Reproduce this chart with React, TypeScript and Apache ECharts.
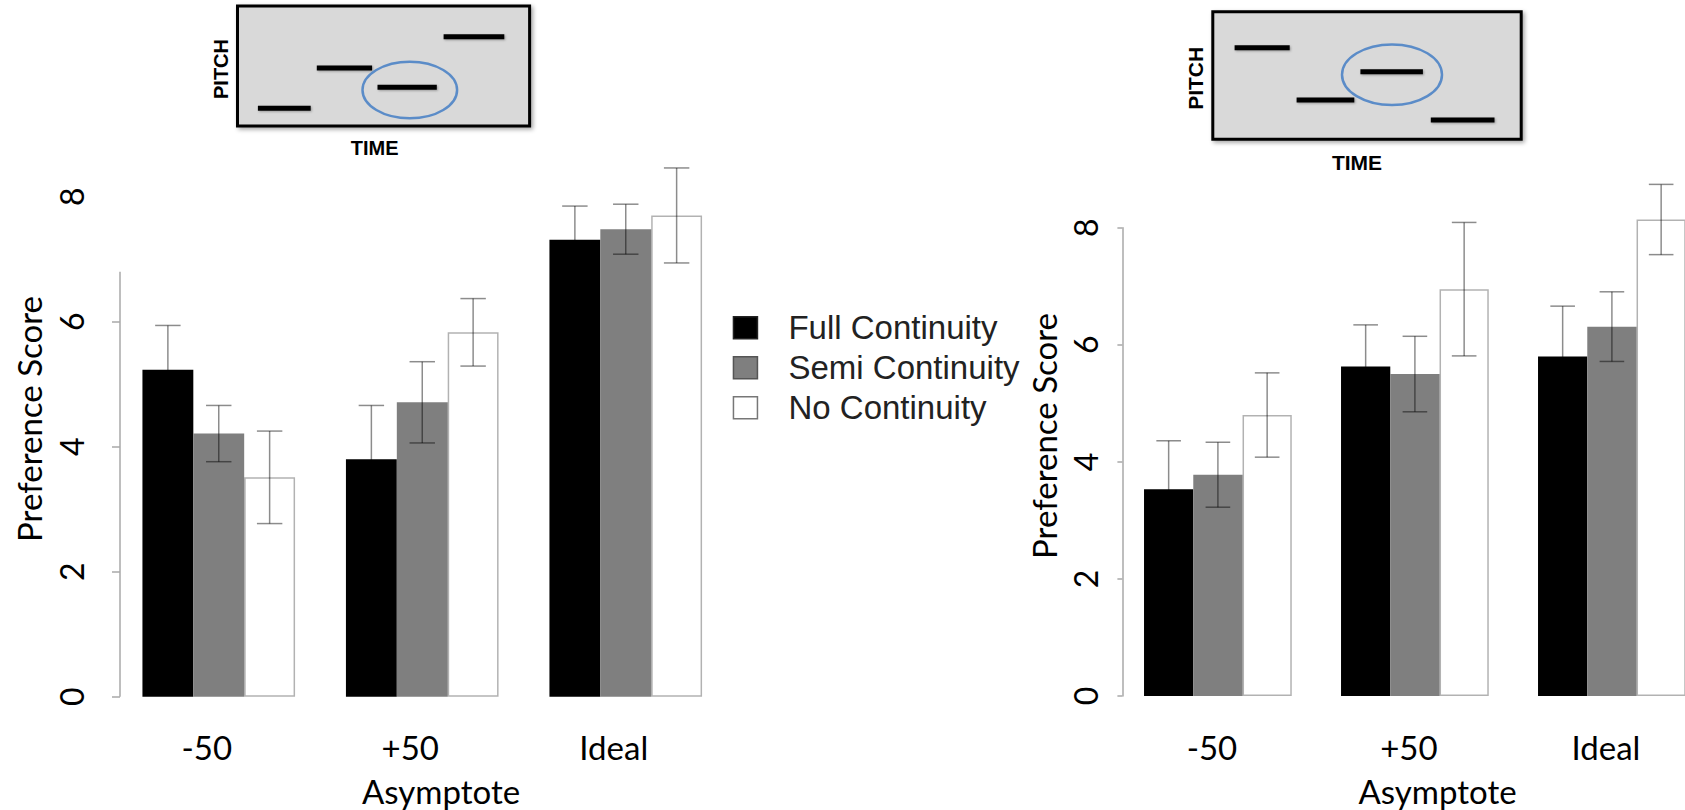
import React, { useEffect, useRef } from 'react';
import * as echarts from 'echarts';

// ---------- data ----------
const categories = ['-50', '+50', 'Ideal'];
const seriesNames = ['Full Continuity', 'Semi Continuity', 'No Continuity'];
const yTicks = [0, 2, 4, 6, 8];
const leftTickValues = [0, 2, 4, 6];
const leftAxisTop = 6.8;

const leftFull = [5.23, 3.8, 7.31];
const leftSemi = [4.21, 4.71, 7.48];
const leftNo = [3.51, 5.83, 7.7];
const leftFullErr = [0.71, 0.86, 0.54];
const leftSemiErr = [0.45, 0.65, 0.4];
const leftNoErr = [0.74, 0.54, 0.76];

const rightFull = [3.53, 5.63, 5.8];
const rightSemi = [3.78, 5.5, 6.31];
const rightNo = [4.8, 6.95, 8.14];
const rightFullErr = [0.83, 0.71, 0.86];
const rightSemiErr = [0.555, 0.645, 0.595];
const rightNoErr = [0.72, 1.14, 0.6];

// ---------- styles ----------
const seriesColors = ['#000000', '#7f7f7f', '#ffffff'];
const legendBorders = ['#222222', '#555555', '#777777'];
const FONT = 'Lato, "Open Sans", sans-serif';
const SANS = '"Liberation Sans", Arial, sans-serif';

const charts = [
  {
    values: [leftFull, leftSemi, leftNo],
    errs: [leftFullErr, leftSemiErr, leftNoErr],
    grid: { left: 117, top: 196.7, width: 610.5, height: 500 },
    labelMargin: 33,
    tickLen: 8,
    xPad: [0, 24, 0, 0],
  },
  {
    values: [rightFull, rightSemi, rightNo],
    errs: [rightFullErr, rightSemiErr, rightNoErr],
    grid: { left: 1119.4, top: 227.7, width: 591, height: 468.3 },
    labelMargin: 21,
    tickLen: 5,
    xPad: [0, 12, 0, 0],
  },
];

const insets = [
  {
    box: { x: 237.5, y: 6, width: 292.1, height: 120 },
    notes: [
      [257.9, 310.7, 108.3],
      [316.8, 372.1, 68],
      [377.5, 436.8, 87.3],
      [443.6, 504.3, 36.7],
    ],
    ellipse: { cx: 409.8, cy: 90, rx: 47.3, ry: 28.3 },
    pitch: [221, 69],
    time: [374.6, 148],
    font: 20,
  },
  {
    box: { x: 1212.8, y: 11.7, width: 308.4, height: 127.6 },
    notes: [
      [1234.6, 1289.7, 47.7],
      [1296.6, 1354.3, 100],
      [1360.4, 1422.9, 71.7],
      [1430.8, 1494.5, 120],
    ],
    ellipse: { cx: 1392, cy: 74.7, rx: 50, ry: 30.3 },
    pitch: [1195.8, 78.3],
    time: [1357, 162],
    font: 21,
  },
];

function textEl(text: string, x: number, y: number, font: string, rotation = 0, fill = '#000') {
  return {
    type: 'text',
    x,
    y,
    rotation,
    silent: true,
    style: {
      text,
      font,
      fill,
      align: 'center',
      verticalAlign: 'middle',
      textAlign: 'center',
      textVerticalAlign: 'middle',
    },
  };
}

function buildOption() {
  const grids: any[] = [];
  const xAxes: any[] = [];
  const yAxes: any[] = [];
  const series: any[] = [];

  charts.forEach((c, ci) => {
    grids.push({ ...c.grid, containLabel: false, outerBoundsMode: 'none' });
    xAxes.push({
      type: 'category',
      gridIndex: ci,
      data: categories,
      boundaryGap: true,
      axisLine: { show: false },
      axisTick: { show: false },
      splitLine: { show: false },
      axisLabel: {
        fontFamily: FONT,
        fontSize: 33,
        color: '#000',
        margin: 34,
        padding: c.xPad,
      },
    });
    yAxes.push({
      type: 'value',
      gridIndex: ci,
      min: yTicks[0],
      max: yTicks[yTicks.length - 1],
      interval: 2,
      offset: -3,
      splitLine: { show: false },
      axisLine: { show: ci === 1, lineStyle: { color: '#a8a8a8', width: 1.5 } },
      axisTick: {
        show: true,
        length: c.tickLen,
        lineStyle: { color: '#a8a8a8', width: 1.5 },
        ...(ci === 0 ? { customValues: leftTickValues } : {}),
      },
      axisLabel: {
        rotate: 90,
        fontFamily: FONT,
        fontSize: 32,
        color: '#000',
        margin: c.labelMargin,
      },
    });

    c.values.forEach((vals, k) => {
      series.push({
        type: 'bar',
        name: seriesNames[k],
        xAxisIndex: ci,
        yAxisIndex: ci,
        data: vals,
        barWidth: '25%',
        barGap: '0%',
        clip: false,
        silent: true,
        itemStyle: {
          color: seriesColors[k],
          borderColor: k === 2 ? 'rgba(0,0,0,0.3)' : seriesColors[k],
          borderWidth: k === 2 ? 1.5 : 0,
        },
      });
    });

    const errData: number[][] = [];
    c.values.forEach((vals, k) => {
      vals.forEach((v, cat) => errData.push([cat, k, v, c.errs[k][cat]]));
    });
    series.push({
      type: 'custom',
      name: 'err' + ci,
      xAxisIndex: ci,
      yAxisIndex: ci,
      clip: false,
      silent: true,
      z: 5,
      encode: { x: 0, y: 2 },
      data: errData,
      renderItem: (params: any, api: any) => {
        const cat = api.value(0);
        const k = api.value(1);
        const v = api.value(2);
        const e = api.value(3);
        const band = api.size([1, 0])[0];
        const cx = api.coord([cat, v])[0] + (k - 1) * band / 4;
        const yTop = api.coord([cat, v + e])[1];
        const yBot = api.coord([cat, v - e])[1];
        const hw = band / 16;
        const style = { stroke: 'rgba(0,0,0,0.45)', lineWidth: 1.5 };
        return {
          type: 'group',
          children: [
            { type: 'line', shape: { x1: cx, y1: yTop, x2: cx, y2: yBot }, style },
            { type: 'line', shape: { x1: cx - hw, y1: yTop, x2: cx + hw, y2: yTop }, style },
            { type: 'line', shape: { x1: cx - hw, y1: yBot, x2: cx + hw, y2: yBot }, style },
          ],
        };
      },
    });
  });

  // partial y axis line of the left panel
  series.push({
    type: 'custom',
    name: 'leftAxisLine',
    xAxisIndex: 0,
    yAxisIndex: 0,
    clip: false,
    silent: true,
    encode: { x: 0, y: 1 },
    data: [[0, leftAxisTop]],
    renderItem: (params: any, api: any) => {
      const x = params.coordSys.x + 3;
      const y0 = api.coord([0, 0])[1];
      const y1 = api.coord([0, api.value(1)])[1];
      return {
        type: 'line',
        shape: { x1: x, y1: y0, x2: x, y2: y1 },
        style: { stroke: '#a8a8a8', lineWidth: 1.5 },
      };
    },
  });

  const graphics: any[] = [];
  insets.forEach((ins) => {
    graphics.push({
      type: 'rect',
      silent: true,
      shape: ins.box,
      style: {
        fill: '#d9d9d9',
        stroke: '#000',
        lineWidth: 3,
        shadowBlur: 4,
        shadowOffsetX: 2,
        shadowOffsetY: 2,
        shadowColor: 'rgba(0,0,0,0.35)',
      },
    });
    ins.notes.forEach(([x1, x2, y]) => {
      graphics.push({
        type: 'rect',
        silent: true,
        shape: { x: x1, y: y - 2.5, width: x2 - x1, height: 5 },
        style: { fill: '#000', shadowBlur: 2, shadowOffsetX: 1, shadowOffsetY: 1, shadowColor: 'rgba(0,0,0,0.3)' },
      });
    });
    graphics.push({
      type: 'ellipse',
      silent: true,
      shape: ins.ellipse,
      style: { fill: 'none', stroke: '#5b8cc8', lineWidth: 2.5 },
    });
    graphics.push(textEl('PITCH', ins.pitch[0], ins.pitch[1], `bold ${ins.font}px ${SANS}`, Math.PI / 2));
    graphics.push(textEl('TIME', ins.time[0], ins.time[1], `bold ${ins.font}px ${SANS}`));
  });
  graphics.push(textEl('Preference Score', 29, 419, `33px ${FONT}`, Math.PI / 2));
  graphics.push(textEl('Preference Score', 1044, 436, `33px ${FONT}`, Math.PI / 2));
  graphics.push(textEl('Asymptote', 441, 791, `33px ${FONT}`));
  graphics.push(textEl('Asymptote', 1437.5, 791, `33px ${FONT}`));

  return {
    animation: false,
    backgroundColor: '#ffffff',
    textStyle: { fontFamily: FONT },
    grid: grids,
    xAxis: xAxes,
    yAxis: yAxes,
    legend: {
      orient: 'vertical',
      left: 727.7,
      top: 302.7,
      itemWidth: 24,
      itemHeight: 22,
      itemGap: 0,
      selectedMode: false,
      textStyle: {
        fontFamily: SANS,
        fontSize: 33,
        color: '#222',
        lineHeight: 40,
        padding: [0, 0, 0, 26],
      },
      data: seriesNames.map((n, i) => ({
        name: n,
        icon: 'rect',
        itemStyle: { color: seriesColors[i], borderColor: legendBorders[i], borderWidth: 1.5 },
      })),
    },
    graphic: { elements: graphics },
    series,
  };
}

export default function App() {
  const ref = useRef<HTMLDivElement>(null);
  useEffect(() => {
    if (!ref.current) return;
    const chart = echarts.init(ref.current, undefined, { renderer: 'svg' });
    chart.setOption(buildOption() as any);
    return () => chart.dispose();
  }, []);
  return (
    <div
      ref={ref}
      style={{ position: 'absolute', left: 0, top: 0, width: 1685, height: 810, background: '#fff' }}
    />
  );
}
